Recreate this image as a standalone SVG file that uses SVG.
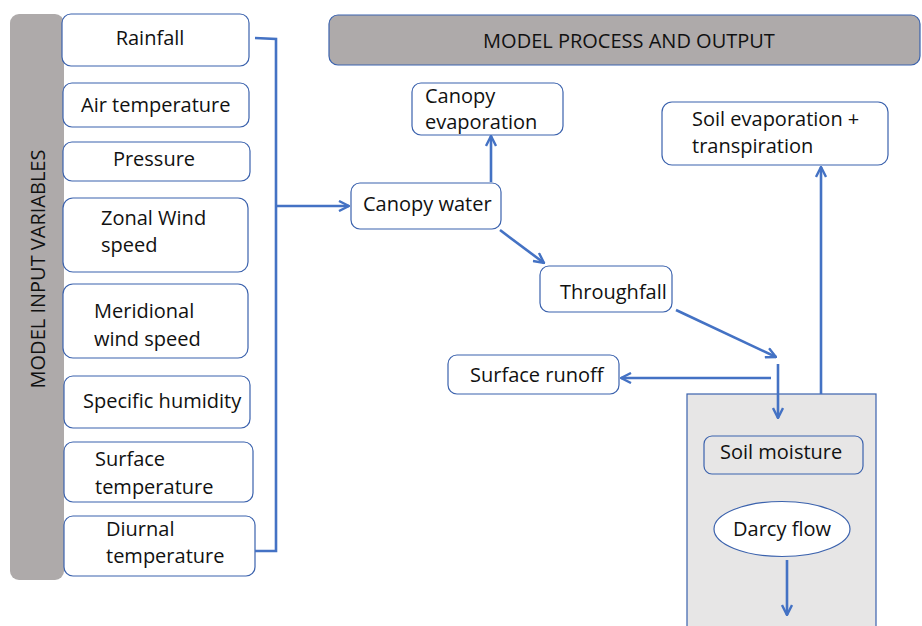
<svg xmlns="http://www.w3.org/2000/svg" width="922" height="626" viewBox="0 0 922 626">
<defs>
<style>
text{font-family:"Open Sans","Noto Sans","Liberation Sans",sans-serif;font-size:20px;fill:#111}
.box{fill:#fff;stroke:#3b62ad;stroke-width:1.2}
.hdr{fill:#aeaaaa;stroke:#3b62ad;stroke-width:1.2}
.conn{fill:none;stroke:#4472c4;stroke-width:2.6}
.mid{text-anchor:middle}
</style>
<marker id="arr" viewBox="0 0 12 12" refX="11" refY="6" markerWidth="12" markerHeight="12" markerUnits="userSpaceOnUse" orient="auto">
<path d="M1,1 L11,6 L1,11" fill="none" stroke="#4472c4" stroke-width="2.4"/>
</marker>
</defs>
<rect width="922" height="626" fill="#fff"/>

<g id="input-header">
<rect x="10" y="14" width="54" height="566" rx="9" fill="#aeaaaa"/>
<text class="mid" transform="translate(45,269) rotate(-90)">MODEL INPUT VARIABLES</text>
</g>

<g id="rainfall"><rect class="box" x="62" y="14" width="187" height="52" rx="9"/><text class="mid" x="150" y="45">Rainfall</text></g>
<g id="air-temperature"><rect class="box" x="63" y="83" width="186" height="44" rx="9"/><text x="81" y="112">Air temperature</text></g>
<g id="pressure"><rect class="box" x="63" y="142" width="187" height="39" rx="9"/><text class="mid" x="154" y="166">Pressure</text></g>
<g id="zonal-wind"><rect class="box" x="63" y="198" width="185" height="74" rx="10"/><text x="101" y="225">Zonal Wind</text><text x="101" y="252">speed</text></g>
<g id="meridional-wind"><rect class="box" x="63" y="284" width="185" height="74" rx="10"/><text x="94" y="318">Meridional</text><text x="94" y="346">wind speed</text></g>
<g id="specific-humidity"><rect class="box" x="64" y="376" width="186" height="52" rx="9"/><text x="83" y="408">Specific humidity</text></g>
<g id="surface-temperature"><rect class="box" x="64" y="442" width="189" height="60" rx="9"/><text x="95" y="466">Surface</text><text x="95" y="494">temperature</text></g>
<g id="diurnal-temperature"><rect class="box" x="64" y="516" width="191" height="60" rx="9"/><text x="106" y="536">Diurnal</text><text x="106" y="563">temperature</text></g>

<g id="process-header"><rect class="hdr" x="329" y="15" width="591" height="50" rx="9"/><text class="mid" x="629" y="48">MODEL PROCESS AND OUTPUT</text></g>

<g id="soil-column"><rect x="687" y="394" width="189" height="240" fill="#e7e6e6" stroke="#3b62ad" stroke-width="1.2"/></g>

<g id="canopy-evaporation"><rect class="box" x="412" y="83" width="151" height="52" rx="9"/><text x="425" y="103">Canopy</text><text x="425" y="129">evaporation</text></g>
<g id="canopy-water"><rect class="box" x="351" y="183" width="150" height="46" rx="9"/><text x="363" y="211">Canopy water</text></g>
<g id="throughfall"><rect class="box" x="540" y="266" width="132" height="46" rx="9"/><text x="560" y="299">Throughfall</text></g>
<g id="soil-evap"><rect class="box" x="662" y="102" width="226" height="63" rx="10"/><text x="692" y="126">Soil evaporation +</text><text x="692" y="153">transpiration</text></g>
<g id="surface-runoff"><rect class="box" x="448" y="355" width="171" height="39" rx="9"/><text x="470" y="382">Surface runoff</text></g>
<g id="soil-moisture"><rect x="704" y="436" width="159" height="38" rx="8" fill="#e7e6e6" stroke="#3b62ad" stroke-width="1.2"/><text x="720" y="459">Soil moisture</text></g>
<g id="darcy-flow"><ellipse cx="782" cy="529" rx="68" ry="27.5" fill="#fff" stroke="#3b62ad" stroke-width="1.2"/><text class="mid" x="782" y="536">Darcy flow</text></g>

<g id="connectors">
<path class="conn" d="M255,38 L276,39 L276,551 L255,551"/>
<path class="conn" d="M276,206 L349,206" marker-end="url(#arr)"/>
<path class="conn" d="M491,182 L491,136" marker-end="url(#arr)"/>
<path class="conn" d="M500,230 L544,263" marker-end="url(#arr)"/>
<path class="conn" d="M676,310 L776,357" marker-end="url(#arr)"/>
<path class="conn" d="M771,378 L621,378" marker-end="url(#arr)"/>
<path class="conn" d="M778,364 L778,418" marker-end="url(#arr)"/>
<path class="conn" d="M821,394 L821,167" marker-end="url(#arr)"/>
<path class="conn" d="M787,560 L787,615" marker-end="url(#arr)"/>
</g>
</svg>
